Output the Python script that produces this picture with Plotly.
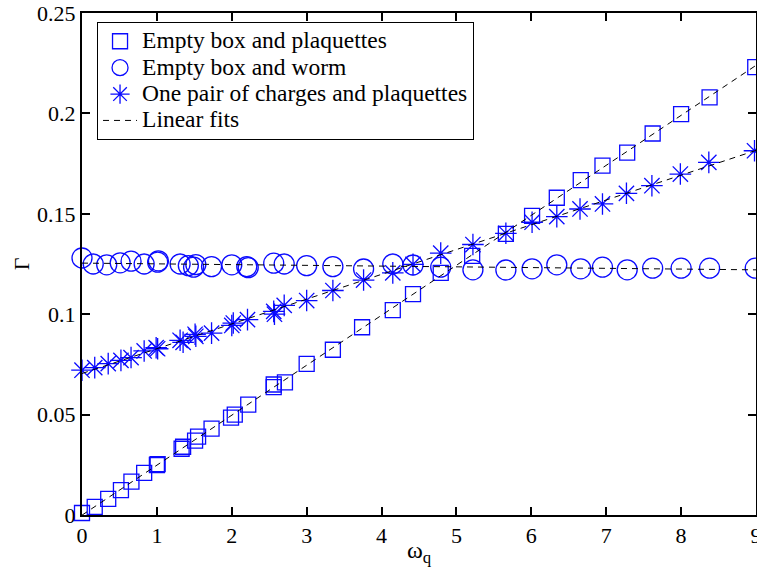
import numpy as np
import plotly.graph_objects as go

# Empty box and plaquettes
sq_x = [0, 0.17, 0.35, 0.52, 0.66, 0.83, 1.0, 1.01, 1.33, 1.35, 1.51, 1.55, 1.73, 1.99, 2.04, 2.22,
        2.56, 2.56, 2.71, 3.0, 3.35, 3.74, 4.15, 4.42, 4.79, 5.21, 5.66, 6.01, 6.34, 6.66, 6.95,
        7.28, 7.62, 8.0, 8.38, 8.99]
sq_y = [0.001, 0.004, 0.008, 0.0124, 0.0166, 0.021, 0.0249, 0.0253, 0.033, 0.034, 0.037, 0.039,
        0.043, 0.0485, 0.050, 0.055, 0.0637, 0.065, 0.066, 0.0753, 0.0823, 0.0935, 0.102, 0.110,
        0.1206, 0.129, 0.140, 0.149, 0.158, 0.1668, 0.174, 0.1805, 0.190, 0.1996, 0.208, 0.223]

# Empty box and worm
ci_x = [0, 0.15, 0.33, 0.51, 0.655, 0.83, 1.01, 1.02, 1.31, 1.42, 1.49, 1.52, 1.73, 2.0, 2.2, 2.22,
        2.56, 2.70, 3.0, 3.35, 3.76, 4.15, 4.42, 4.79, 5.22, 5.66, 6.01, 6.34, 6.66, 6.95, 7.28,
        7.62, 8.0, 8.38, 8.99]
ci_y = [0.128, 0.125, 0.1246, 0.1256, 0.1264, 0.125, 0.1259, 0.1266, 0.125, 0.1242, 0.1234, 0.1247,
        0.1237, 0.1246, 0.1237, 0.1232, 0.1254, 0.125, 0.1242, 0.1237, 0.1225, 0.125, 0.1245,
        0.1234, 0.1221, 0.122, 0.1226, 0.1246, 0.1226, 0.1234, 0.1221, 0.1229, 0.1229, 0.1229, 0.1229]

# One pair of charges and plaquettes
st_x = [0, 0.17, 0.35, 0.52, 0.655, 0.83, 0.99, 1.01, 1.31, 1.35, 1.51, 1.52, 1.73, 2.0, 2.02, 2.21,
        2.56, 2.57, 2.70, 3.0, 3.35, 3.76, 4.15, 4.42, 4.79, 5.22, 5.66, 6.01, 6.34, 6.65, 6.95,
        7.27, 7.61, 7.99, 8.37, 8.98]
st_y = [0.0721, 0.0734, 0.0754, 0.077, 0.0784, 0.0817, 0.0833, 0.0828, 0.087, 0.086, 0.090, 0.089,
        0.0906, 0.0944, 0.0956, 0.0973, 0.1014, 0.100, 0.1044, 0.1068, 0.1118, 0.117, 0.1206,
        0.1248, 0.1304, 0.1347, 0.1403, 0.1458, 0.1486, 0.1524, 0.1549, 0.1602, 0.164, 0.1698,
        0.1756, 0.1814]

fit_range = [0, 9]
x_ticks = [0, 1, 2, 3, 4, 5, 6, 7, 8, 9]
y_ticks = [0, 0.05, 0.1, 0.15, 0.2, 0.25]
y_labels = ["0", "0.05", "0.1", "0.15", "0.2", "0.25"]
names = ["Empty box and plaquettes", "Empty box and worm", "One pair of charges and plaquettes"]
fit_name = "Linear fits"

BLUE = "rgb(10,10,255)"
FONT = "Liberation Serif, Times New Roman, Times, serif"


def big(t):
    return '<span style="font-size:23.5px">' + t + '</span>'


fig = go.Figure()
series = [(sq_x, sq_y, "square-open", 15), (ci_x, ci_y, "circle-open", 20), (st_x, st_y, "asterisk-open", 18)]
for (xs, ys, sym, sz), nm in zip(series, names):
    fig.add_trace(go.Scatter(x=xs, y=ys, mode="markers", name=big(nm), cliponaxis=False,
                             marker=dict(symbol=sym, size=sz, color=BLUE,
                                         line=dict(color=BLUE, width=1.3))))

for i, (xs, ys, _, _) in enumerate(series):
    k, b = np.polyfit(xs, ys, 1)
    fx = np.array(fit_range, dtype=float)
    fig.add_trace(go.Scatter(x=fx, y=k * fx + b, mode="lines", name=big(fit_name),
                             legendgroup="fits", showlegend=(i == 0), cliponaxis=False,
                             line=dict(color="black", width=1, dash="6px,5px")))

axis_common = dict(showline=True, linecolor="black", linewidth=2, mirror="ticks",
                   ticks="inside", ticklen=8, tickwidth=2, tickcolor="black",
                   showgrid=False, zeroline=False, automargin=False,
                   ticklabeloverflow="allow",
                   tickfont=dict(family=FONT, size=22, color="black"))

fig.update_layout(
    width=757, height=574,
    margin=dict(l=82, r=1, t=13, b=59),
    paper_bgcolor="white", plot_bgcolor="white",
    font=dict(family=FONT, size=22, color="black"),
    xaxis=dict(range=[0, 9], tickmode="array", tickvals=x_ticks,
               ticktext=[str(v) for v in x_ticks], **axis_common),
    yaxis=dict(range=[0, 0.25], tickmode="array", tickvals=y_ticks, ticktext=y_labels,
               title=dict(text="Γ", font=dict(family=FONT, size=22), standoff=1),
               **axis_common),
    legend=dict(x=0.0223, y=0.982, xanchor="left", yanchor="top",
                bordercolor="black", borderwidth=1, bgcolor="white",
                font=dict(family=FONT, size=18, color="black"),
                tracegroupgap=0, itemwidth=34),
    annotations=[dict(text="ω<sub>q</sub>", xref="paper", yref="paper", x=0.5, y=0,
                      xanchor="center", yanchor="top", yshift=-20, showarrow=False,
                      font=dict(family=FONT, size=24, color="black"))],
)

fig.write_html("out.html", config={"displayModeBar": False},
               post_script="document.body.style.margin='0';document.body.style.overflow='hidden';")
